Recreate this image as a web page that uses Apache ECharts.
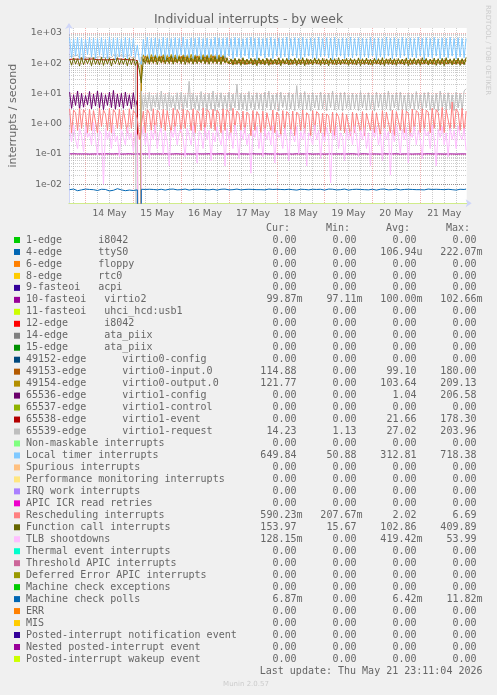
<!DOCTYPE html>
<html><head><meta charset="utf-8">
<script src="https://cdn.jsdelivr.net/npm/echarts@6/dist/echarts.min.js"></script>
<style>html,body{margin:0;padding:0;background:#f0f0f0}#c{width:497px;height:695px}</style>
</head><body><div id="c"></div>
<script>
// ---------- time axis (hours after 13 May 00:00) ----------
const START_HOUR = 16;          // first sample: 13 May 16:00
const STEP_HOURS = 1;
const X_MIN = 15.7, X_MAX = 215.3;
const DAY_LABELS = ['14 May','15 May','16 May','17 May','18 May','19 May','20 May','21 May'];
// ---------- y axis ----------
const Y_MIN = 0.00234, Y_MAX = 1442;
const Y_TICK_LABELS = ['1e-02','1e-01','1e+00','1e+01','1e+02','1e+03'];
const ZERO_FLOOR = 1e-30; // zero values fall below the log axis, like rrdtool

// ---------- series values (hourly) ----------
const LOC = [
680,150,640,170,700,140,660,130,620,190,
710,160,670,140,650,180,690,150,630,140,
720,170,660,130,680,160,640,150,700,140,
670,170,650,160,400,
120,
90,620,170,710,
140,660,160,680,150,640,170,700,130,670,
160,650,150,690,140,660,180,710,160,630,
150,680,140,660,170,700,130,650,160,670,
150,640,170,710,140,680,160,660,150,690,
170,650,140,700,160,670,150,640,170,680,
140,710,160,660,130,690,170,650,150,670,
160,700,140,640,170,680,150,660,160,710,
130,650,170,690,150,670,140,700,160,640,
170,680,150,660,140,710,160,650,170,690,
150,670,130,700,160,640,170,680,140,660,
160,710,150,650,170,690,140,670,160,640,
150,700,170,660,130,680,160,650,150,710,
170,670,140,690,160,640,150,700,170,660,
140,680,160,650,150,710,170,670,130,690,
160,660,150,700,170,640,140,680,160,670,
150,710,170,650,140,690,160,660,150,650
];
const CAL = [
135,85,148,92,140,80,152,88,138,95,
145,82,150,90,136,86,155,84,142,92,
148,80,140,94,152,86,138,90,146,82,
150,88,142,84,120,
60,
22,140,95,160,
92,155,98,165,90,158,100,162,94,150,
96,168,92,155,100,160,95,165,90,158,
98,150,92,162,96,155,100,158,94,165,
92,152,98,160,95,156,90,164,100,150,
94,138,86,145,90,140,84,150,88,136,
92,144,86,140,82,148,90,138,86,146,
84,142,90,136,88,150,82,140,92,144,
86,138,90,146,84,140,88,150,82,142,
90,136,86,148,92,140,84,144,88,138,
82,146,90,140,86,150,88,136,92,144,
84,142,90,138,86,148,82,140,90,146,
88,136,84,144,92,140,86,150,82,138,
90,146,88,140,84,142,92,136,86,148,
82,140,90,144,88,138,84,150,92,142,
86,136,90,146,84,140,88,144,82,150,
92,138,86,142,90,146,84,140,88,154
];
const IRQ49153 = [
0,0,0,0,0,0,0,0,0,0,0,0,0,0,0,0,0,0,0,0,0,0,0,0,0,0,0,0,0,0,0,0,0,0,0,0,
160,110,175,105,
168,112,180,108,170,115,172,106,178,112,
165,110,176,108,170,114,168,110,182,106,
174,112,166,108,178,110,170,114,176,106,
168,112,180,108,172,110,166,112,174,108,
120,96,128,92,124,98,130,94,126,90,
122,96,128,92,125,98,127,93,122,97,
130,91,124,95,128,92,125,98,121,94,
129,90,126,96,123,93,128,97,124,91,
130,95,122,99,127,92,124,96,129,93,
121,98,126,90,128,94,123,97,130,92,
125,95,127,91,122,98,129,93,124,96,
128,90,126,97,121,94,127,92,123,98,
130,95,125,91,128,96,122,93,129,97,
124,90,127,95,123,98,130,92,126,96,
121,94,128,91,125,97,123,95,129,92,
126,98,122,93,127,96,124,94,128,115
];
const IRQ49154 = [
0,0,0,0,0,0,0,0,0,0,0,0,0,0,0,0,0,0,0,0,0,0,0,0,0,0,0,0,0,0,0,0,0,0,0,0,
110,185,115,178,
108,190,112,182,118,176,112,188,110,180,
116,192,108,184,114,178,110,186,118,180,
112,194,110,182,116,176,114,188,108,184,
112,190,116,178,110,186,112,180,116,130,
100,136,96,132,102,128,98,134,100,130,
96,138,102,126,98,135,101,131,97,136,
99,128,103,133,96,137,100,129,98,134,
102,130,97,136,101,127,99,135,96,131,
103,128,100,137,98,132,102,129,97,134,
100,136,99,130,103,126,96,133,101,129,
98,137,100,131,97,135,103,128,99,134,
96,130,102,136,98,129,100,133,97,138,
101,127,99,134,96,131,102,136,98,130,
100,128,103,135,97,132,99,129,101,137,
96,133,100,127,102,134,98,131,103,136,
97,129,100,135,99,130,101,134,97,122
];
const IRQ65536 = [
11,3.2,9,4,12,3,10,3.5,8.5,4.2,
11.5,3.1,9.5,3.8,12,3.3,10.5,2.9,9,4,
11,3.4,12.5,3,9.5,3.6,10,3.2,11,3.9,
9,3.1,10.5,3.5,6,
0
];
const IRQ65538 = [
132,128,136,125,134,130,138,127,133,129,
135,126,137,131,128,134,130,136,127,133,
129,135,131,126,138,130,134,128,132,136,
127,133,130,135,120,
0
];
const IRQ65539 = [
165,150,172,158,180,148,170,160,176,152,
168,155,178,150,172,162,182,150,166,158,
174,152,180,160,170,148,176,156,168,162,
178,150,172,158,160,
0,
12,2.8,9,3.2,11,2.6,8.5,3.5,10,2.9,
12,3.1,9.5,2.7,11,3.4,8,2.8,10.5,3.0,
11,2.6,9,3.3,25,2.9,10,3.1,8.5,2.7,
11.5,3.2,9.5,2.8,10,3.0,12,2.6,9,3.4,
10.5,2.9,8.5,3.1,11,2.7,9.5,3.3,20,2.8,
10,3.0,9,2.6,11.5,3.2,8.5,2.9,10.5,3.1,
9.5,2.7,11,3.3,12,2.8,9,3.0,10,2.6,
11,3.4,8.5,2.9,10.5,3.1,9.5,2.7,18,3.2,
10,2.8,11.5,3.0,9,2.6,10.5,3.3,8.5,2.9,
11,3.1,9.5,2.7,10,3.4,12,2.8,9,3.0,
10.5,2.6,11,3.2,8.5,2.9,10,3.1,9.5,2.7,
11.5,3.3,9,2.8,10.5,3.0,8.5,2.6,11,3.4,
9.5,2.9,10,3.1,12,2.7,9,3.3,10.5,2.8,
11,3.0,8.5,2.6,10,3.2,9.5,2.9,11.5,3.1,
9,2.7,10.5,3.3,11,2.8,8.5,3.0,10,2.6,
12,3.4,9.5,2.9,10.5,3.1,9,2.7,11,3.3,
10,2.8,12,14.2
];
const RES = [
3.1,0.5,2.8,2.3,0.6,3.2,0.7,2.9,2.2,0.5,
3.0,0.6,2.7,2.4,0.5,3.3,0.8,2.8,2.1,0.6,
3.2,0.5,2.9,2.3,0.7,3.0,0.6,2.8,2.5,0.5,
3.1,0.7,2.7,2.2,1.5,
0.3,
0.9,2.6,0.5,2.9,2.2,0.6,3.1,0.5,2.8,2.3,
0.7,3.0,0.6,2.7,2.4,0.5,3.2,0.6,2.9,2.1,
0.5,3.0,0.7,2.8,2.3,0.6,3.1,0.5,2.7,2.2,
0.6,3.3,0.5,2.9,2.4,0.7,3.0,0.6,2.8,2.2,
0.5,3.1,0.6,2.9,2.3,0.5,3.2,0.7,2.6,2.1,
0.6,2.6,0.5,2.4,2.0,0.4,2.7,0.6,2.5,1.9,
0.5,2.6,0.4,2.3,2.0,0.6,2.8,0.5,2.4,1.9,
0.4,2.7,0.6,2.5,2.1,0.5,2.6,0.4,2.4,2.0,
0.6,2.8,0.5,2.3,1.9,0.4,2.7,0.6,2.5,2.1,
0.5,2.2,0.4,2.1,1.8,0.5,2.4,0.4,2.2,1.7,
0.6,2.3,0.5,2.0,1.8,0.4,2.4,0.5,2.2,1.9,
0.5,2.5,0.4,2.2,1.9,0.6,2.6,0.5,2.3,2.0,
0.4,2.7,0.6,2.4,2.1,0.5,2.8,0.4,2.5,2.2,
0.6,2.9,0.5,2.6,2.2,0.4,3.0,0.6,2.7,2.3,
0.5,3.1,0.6,2.8,2.4,0.5,3.2,0.7,2.9,2.3,
0.6,3.4,0.5,2.9,2.5,0.6,5.2,0.7,3.0,2.4,
0.6,3.2,0.5,2.6
];
const TLB = [
0.6,0.25,0.9,0.3,0.15,0.7,0.4,0.12,0.8,0.35,
0.5,0.2,1.1,0.3,0.09,0.6,0.45,0.01,0.7,0.3,
0.55,0.15,0.9,0.25,0.4,0.08,0.65,0.35,0.2,0.75,
0.3,0.5,0.12,0.6,0.4,
0,
0.3,0.8,0.2,0.5,0.07,0.6,0.3,0.9,0.15,0.45,
0.7,0.1,0.55,0.25,0.04,0.6,0.35,0.8,0.2,0.5,
0.65,0.3,0.08,0.7,0.4,0.2,0.85,0.3,0.05,0.55,
0.45,0.15,0.75,0.3,0.6,0.06,0.5,0.25,0.8,0.35,
0.2,0.6,0.04,0.7,0.3,0.5,0.15,0.9,0.4,0.07,
0.6,0.3,0.75,0.2,0.45,0.023,0.6,0.35,0.8,0.15,
0.5,0.08,0.7,0.3,0.55,0.2,0.85,0.05,0.6,0.35,
0.45,0.15,0.7,0.3,0.06,0.65,0.4,0.25,0.8,0.1,
0.55,0.3,0.7,0.04,0.5,0.35,0.2,0.9,0.3,0.6,
0.07,0.5,0.25,0.75,0.4,0.011,0.6,0.3,0.8,0.15,
0.5,0.35,0.06,0.7,0.3,0.55,0.2,0.85,0.4,0.08,
0.6,0.3,0.75,0.15,0.5,0.04,0.65,0.35,0.8,0.2,
0.45,0.06,0.7,0.3,0.55,0.02,0.6,0.25,0.85,0.4,
0.1,0.65,0.3,0.75,0.05,0.5,0.35,0.8,0.2,0.6,
0.3,0.07,0.7,0.4,0.55,0.15,0.9,0.3,0.04,0.65,
0.35,0.8,0.2,0.5,0.08,0.7,0.3,0.6,0.15,0.85,
0.4,0.3,0.7,0.13
];
const VIRTIO2 = [
0.100,0.099,0.101,0.100,0.100,0.099,0.100,0.101,0.100,0.100,
0.099,0.100,0.100,0.101,0.100,0.099,0.100,0.100,0.101,0.100,
0.100,0.099,0.100,0.100,0.101,0.100,0.099,0.100,0.100,0.100,
0.101,0.100,0.099,0.100,0.100,0.100,0.100,0.101,0.100,0.099,
0.100,0.100,0.100,0.101,0.100,0.099,0.100,0.100,0.101,0.100,
0.099,0.100,0.100,0.100,0.101,0.100,0.099,0.100,0.100,0.101,
0.100,0.100,0.099,0.100,0.101,0.100,0.100,0.099,0.100,0.100,
0.101,0.100,0.100,0.099,0.100,0.100,0.101,0.100,0.099,0.100,
0.100,0.101,0.100,0.100,0.099,0.100,0.100,0.101,0.100,0.100,
0.099,0.100,0.101,0.100,0.100,0.099,0.100,0.100,0.101,0.100,
0.100,0.099,0.100,0.101,0.100,0.100,0.099,0.100,0.100,0.101,
0.100,0.100,0.099,0.100,0.101,0.100,0.100,0.099,0.100,0.100,
0.101,0.100,0.099,0.100,0.100,0.101,0.100,0.100,0.099,0.100,
0.100,0.101,0.100,0.099,0.100,0.100,0.100,0.101,0.100,0.099,
0.100,0.100,0.101,0.100,0.099,0.100,0.100,0.100,0.101,0.100,
0.099,0.100,0.100,0.101,0.100,0.100,0.099,0.100,0.101,0.100,
0.100,0.099,0.100,0.100,0.101,0.100,0.099,0.100,0.100,0.101,
0.100,0.100,0.099,0.100,0.100,0.101,0.100,0.099,0.100,0.100,
0.101,0.100,0.100,0.099,0.100,0.101,0.100,0.100,0.099,0.100,
0.100,0.101,0.100,0.100,0.099,0.100,0.100,0.101,0.100,0.100
];
const MCP = [
0.0066,0.0062,0.0069,0.0064,0.0061,0.0068,0.0065,0.0060,0.0069,0.0063,
0.0067,0.0061,0.0066,0.0070,0.0062,0.0065,0.0068,0.0061,0.0067,0.0064,
0.0060,0.0069,0.0063,0.0066,0.0071,0.0062,0.0065,0.0068,0.0061,0.0067,
0.0064,0.0069,0.0062,0.0066,0.0065,
0,
0.0068,0.0066,0.0067,0.0065,0.0068,0.0066,0.0067,0.0069,0.0065,0.0067,
0.0068,0.0066,0.0064,0.0067,0.0068,0.0066,0.0069,0.0067,0.0065,0.0068,
0.0066,0.0067,0.0069,0.0066,0.0064,0.0068,0.0067,0.0065,0.0068,0.0066,
0.0067,0.0069,0.0066,0.0068,0.0065,0.0067,0.0068,0.0066,0.0064,0.0067,
0.0068,0.0066,0.0069,0.0067,0.0065,0.0068,0.0066,0.0067,0.0069,0.0066,
0.0065,0.0068,0.0067,0.0064,0.0068,0.0066,0.0067,0.0069,0.0066,0.0068,
0.0066,0.0067,0.0065,0.0068,0.0069,0.0066,0.0067,0.0064,0.0068,0.0066,
0.0067,0.0069,0.0066,0.0065,0.0068,0.0067,0.0066,0.0068,0.0064,0.0067,
0.0068,0.0066,0.0067,0.0069,0.0065,0.0067,0.0068,0.0066,0.0067,0.0065,
0.0068,0.0066,0.0064,0.0067,0.0069,0.0066,0.0068,0.0067,0.0065,0.0068,
0.0066,0.0067,0.0069,0.0066,0.0064,0.0068,0.0067,0.0066,0.0068,0.0065,
0.0067,0.0069,0.0066,0.0068,0.0065,0.0067,0.0068,0.0066,0.0064,0.0067,
0.0068,0.0066,0.0069,0.0067,0.0065,0.0068,0.0066,0.0067,0.0069,0.0066,
0.0065,0.0068,0.0067,0.0064,0.0068,0.0066,0.0067,0.0069,0.0066,0.0068,
0.0066,0.0067,0.0065,0.0068,0.0069,0.0066,0.0067,0.0064,0.0068,0.0066,
0.0067,0.0069,0.0066,0.0065,0.0068,0.0067,0.0066,0.0068,0.0064,0.0067,
0.0068,0.0066,0.0067,0.0069
];

// ---------- legend ----------
const LEG_LABELS = [
'1-edge      i8042','4-edge      ttyS0','6-edge      floppy','8-edge      rtc0',
'9-fasteoi   acpi','10-fasteoi   virtio2','11-fasteoi   uhci_hcd:usb1','12-edge      i8042',
'14-edge      ata_piix','15-edge      ata_piix','49152-edge      virtio0-config',
'49153-edge      virtio0-input.0','49154-edge      virtio0-output.0','65536-edge      virtio1-config',
'65537-edge      virtio1-control','65538-edge      virtio1-event','65539-edge      virtio1-request',
'Non-maskable interrupts','Local timer interrupts','Spurious interrupts',
'Performance monitoring interrupts','IRQ work interrupts','APIC ICR read retries',
'Rescheduling interrupts','Function call interrupts','TLB shootdowns','Thermal event interrupts',
'Threshold APIC interrupts','Deferred Error APIC interrupts','Machine check exceptions',
'Machine check polls','ERR','MIS','Posted-interrupt notification event',
'Nested posted-interrupt event','Posted-interrupt wakeup event'
];
const LEG_COLORS = [
'#00CC00','#0066B3','#FF8000','#FFCC00','#330099','#990099','#CCFF00','#FF0000','#808080',
'#008F00','#00487D','#B35A00','#B38F00','#6B006B','#8FB300','#B30000','#BEBEBE','#80FF80',
'#80C9FF','#FFC080','#FFE680','#AA80FF','#EE00CC','#FF8080','#666600','#FFBFFF','#00FFCC',
'#CC6699','#999900','#00CC00','#0066B3','#FF8000','#FFCC00','#330099','#990099','#CCFF00'
];
const Z = '0.00';
const LEG_CUR = [Z,Z,Z,Z,Z,'99.87m',Z,Z,Z,Z,Z,'114.88','121.77',Z,Z,Z,'14.23',Z,'649.84',Z,Z,Z,Z,'590.23m','153.97','128.15m',Z,Z,Z,Z,'6.87m',Z,Z,Z,Z,Z];
const LEG_MIN = [Z,Z,Z,Z,Z,'97.11m',Z,Z,Z,Z,Z,Z,Z,Z,Z,Z,'1.13',Z,'50.88',Z,Z,Z,Z,'207.67m','15.67',Z,Z,Z,Z,Z,Z,Z,Z,Z,Z,Z];
const LEG_AVG = [Z,'106.94u',Z,Z,Z,'100.00m',Z,Z,Z,Z,Z,'99.10','103.64','1.04',Z,'21.66','27.02',Z,'312.81',Z,Z,Z,Z,'2.02','102.86','419.42m',Z,Z,Z,Z,'6.42m',Z,Z,Z,Z,Z];
const LEG_MAX = [Z,'222.07m',Z,Z,Z,'102.66m',Z,Z,Z,Z,Z,'180.00','209.13','206.58',Z,'178.30','203.96',Z,'718.38',Z,Z,Z,Z,'6.69','409.89','53.99',Z,Z,Z,Z,'11.82m',Z,Z,Z,Z,Z];
const LEG_HEADERS = ['Cur:','Min:','Avg:','Max:'];
const TITLE = 'Individual interrupts - by week';
const Y_NAME = 'interrupts / second';
const LAST_UPDATE = 'Last update: Thu May 21 23:11:04 2026';
const WATERMARK = 'RRDTOOL / TOBI OETIKER';
const FOOTER = 'Munin 2.0.57';

// plotted series: [legend index, values]
const PLOTTED = [
  [5, VIRTIO2], [11, IRQ49153], [12, IRQ49154], [13, IRQ65536], [15, IRQ65538], [16, IRQ65539],
  [18, LOC], [23, RES], [24, CAL], [25, TLB], [30, MCP]
];

// ---------- styles ----------
const FONT = '#666666';
const AXIS_COL = '#CFD6F8';
const GRID_COL = 'rgba(143,143,143,0.45)';
const MGRID_COL = 'rgba(222,79,79,0.45)';
const SANS = 'DejaVu Sans';
const MONO = 'DejaVu Sans Mono';

const chart = echarts.init(document.getElementById('c'), null, {renderer: 'canvas'});

const minorY = [];
for (let k = -3; k <= 3; k++) for (let m = 2; m <= 9; m++) {
  const v = m * Math.pow(10, k);
  if (v > Y_MIN && v < Y_MAX) minorY.push(v);
}

const series = [{
  type: 'line', data: [], z: 1, silent: true, animation: false,
  markLine: { silent: true, z: 1, animation: false, symbol: ['none','none'], label: {show: false},
    lineStyle: {color: GRID_COL, type: [1, 1], width: 1},
    emphasis: {disabled: true},
    data: minorY.map(v => ({yAxis: v})) }
}];
PLOTTED.forEach(([li, vals]) => {
  series.push({
    name: LEG_LABELS[li], type: 'line', z: 2, silent: true, animation: false,
    symbol: 'none', showSymbol: false, clip: true,
    lineStyle: {color: LEG_COLORS[li], width: 1}, itemStyle: {color: LEG_COLORS[li]},
    emphasis: {disabled: true},
    data: vals.map((v, i) => [START_HOUR + i * STEP_HOURS, v > 0 ? v : ZERO_FLOOR])
  });
});

// legend graphics
const graphics = [];
const ROW0 = 240, ROW_H = 11.97;
const COL_R = [302.5, 362.5, 422.5, 482.5];
const HEAD_R = [290, 350, 410, 470];
LEG_HEADERS.forEach((h, j) => graphics.push({type: 'text', x: HEAD_R[j], y: 228,
  style: {text: h, fill: FONT, font: '10px "' + MONO + '"', textAlign: 'right', textVerticalAlign: 'middle'}}));
LEG_LABELS.forEach((lab, i) => {
  const y = ROW0 + i * ROW_H;
  graphics.push({type: 'rect', shape: {x: 14, y: y - 3, width: 6, height: 6}, style: {fill: LEG_COLORS[i]}});
  graphics.push({type: 'text', x: 26, y: y, style: {text: lab, fill: FONT, font: '10px "' + MONO + '"', textVerticalAlign: 'middle'}});
  [LEG_CUR, LEG_MIN, LEG_AVG, LEG_MAX].forEach((arr, j) => {
    let s = arr[i]; if (/[0-9]$/.test(s)) s += ' ';
    graphics.push({type: 'text', x: COL_R[j], y: y, style: {text: s, fill: FONT, font: '10px "' + MONO + '"', textAlign: 'right', textVerticalAlign: 'middle'}});
  });
});
graphics.push({type: 'text', x: 482.5, y: 671.5, style: {text: LAST_UPDATE, fill: FONT, font: '10px "' + MONO + '"', textAlign: 'right', textVerticalAlign: 'middle'}});
graphics.push({type: 'text', x: 246, y: 684, style: {text: FOOTER, fill: '#cccccc', font: '7px "' + SANS + '"', textAlign: 'center', textVerticalAlign: 'middle'}});
graphics.push({type: 'text', x: 488, y: 5, rotation: -Math.PI / 2, style: {text: WATERMARK, fill: '#cccccc', font: '7px "' + SANS + '"', textAlign: 'left', textVerticalAlign: 'middle'}});

function expLabel(v) {
  const e = Math.round(Math.log10(v));
  if (Math.abs(Math.log10(v) - e) > 1e-6) return '';
  const idx = e + 2;
  return Y_TICK_LABELS[idx] || '';
}

chart.setOption({
  backgroundColor: '#f0f0f0',
  animation: false,
  title: {text: TITLE, left: 'center', top: 9, textStyle: {color: FONT, fontSize: 12.4, fontWeight: 'normal', fontFamily: SANS}},
  grid: {left: 67, right: 30.3, top: 28, bottom: 491.7, backgroundColor: '#ffffff', show: true, borderWidth: 0},
  xAxis: [{
    type: 'value', position: 'bottom', min: X_MIN, max: X_MAX, minInterval: 24, maxInterval: 24, z: 1,
    axisLine: {show: true, onZero: false, lineStyle: {color: '#d0ec8a', width: 1}},
    axisTick: {show: false}, axisLabel: {show: false},
    splitLine: {show: true, showMinLine: false, showMaxLine: false, lineStyle: {color: MGRID_COL, type: [1, 1], width: 1}},
    minorTick: {show: false, splitNumber: 4},
    minorSplitLine: {show: true, lineStyle: {color: GRID_COL, type: [1, 1], width: 1}}
  }, {
    type: 'value', position: 'bottom', min: X_MIN - 12, max: X_MAX - 12, minInterval: 24, maxInterval: 24, z: 0,
    axisLine: {show: true, onZero: false, symbol: ['none', 'arrow'], symbolSize: [6, 6], symbolOffset: [0, 5], lineStyle: {color: AXIS_COL, width: 1}},
    axisTick: {show: false}, splitLine: {show: false},
    axisLabel: {show: true, interval: 0, showMinLabel: false, showMaxLabel: false, color: FONT, fontSize: 9.3, fontFamily: SANS, margin: 6,
      formatter: v => (Math.abs(v % 24) < 1e-6 && v > 0) ? (DAY_LABELS[v / 24 - 1] || '') : ''}
  }],
  yAxis: [{
    type: 'log', logBase: 10, min: Y_MIN, max: Y_MAX,
    name: Y_NAME, nameLocation: 'middle', nameGap: 50,
    nameTextStyle: {color: FONT, fontSize: 11, fontFamily: SANS},
    axisLine: {show: true, symbol: ['none', 'arrow'], symbolSize: [6, 6], symbolOffset: [0, 5], lineStyle: {color: AXIS_COL, width: 1}},
    axisTick: {show: false},
    axisLabel: {color: FONT, fontSize: 9.3, fontFamily: SANS, margin: 7, showMinLabel: false, showMaxLabel: false, formatter: expLabel},
    splitLine: {show: true, showMinLine: false, showMaxLine: false, lineStyle: {color: MGRID_COL, type: [1, 1], width: 1}},
    minorSplitLine: {show: false}
  }],
  series: series,
  graphic: graphics
});
</script></body></html>
